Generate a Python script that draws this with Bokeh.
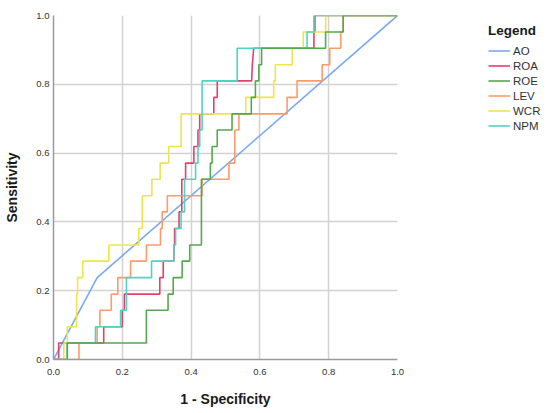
from bokeh.plotting import figure
from bokeh.models import Range1d, Legend, LegendItem, FixedTicker, PrintfTickFormatter
from bokeh.embed import file_html
from bokeh.resources import INLINE

# ---- data ----
series_names = ["AO", "ROA", "ROE", "LEV", "WCR", "NPM"]
series_colors = ["#7aaaee", "#e2416a", "#55a84e", "#ff9a6a", "#ece64a", "#4fd4c4"]

AO_fpr = [0.0, 0.127, 1.0]
AO_tpr = [0.0, 0.238, 1.0]

ROA_fpr = [0.0, 0.015, 0.015, 0.146, 0.146, 0.2, 0.2, 0.206, 0.206, 0.309, 0.309, 0.319, 0.319,
           0.35, 0.35, 0.352, 0.352, 0.365, 0.365, 0.373, 0.373, 0.384, 0.384, 0.408, 0.408,
           0.42, 0.42, 0.425, 0.425, 0.466, 0.466, 0.476, 0.476, 0.576, 0.578, 0.582, 0.757,
           0.757, 0.76, 0.76, 1.0]
ROA_tpr = [0.0, 0.0, 0.048, 0.048, 0.095, 0.095, 0.143, 0.143, 0.19, 0.19, 0.238, 0.238, 0.286,
           0.286, 0.333, 0.333, 0.381, 0.381, 0.429, 0.429, 0.524, 0.524, 0.571, 0.571, 0.619,
           0.619, 0.667, 0.667, 0.714, 0.714, 0.762, 0.762, 0.81, 0.81, 0.857, 0.905, 0.905,
           0.952, 0.952, 1.0, 1.0]

ROE_fpr = [0.0, 0.04, 0.04, 0.27, 0.27, 0.333, 0.333, 0.348, 0.348, 0.374, 0.374, 0.396, 0.396,
           0.43, 0.43, 0.456, 0.456, 0.461, 0.461, 0.476, 0.476, 0.519, 0.519, 0.575, 0.575,
           0.587, 0.587, 0.597, 0.597, 0.605, 0.605, 0.791, 0.791, 0.842, 0.842, 1.0]
ROE_tpr = [0.0, 0.0, 0.048, 0.048, 0.143, 0.143, 0.19, 0.19, 0.238, 0.238, 0.286, 0.286, 0.333,
           0.333, 0.524, 0.524, 0.571, 0.571, 0.619, 0.619, 0.667, 0.667, 0.714, 0.714, 0.762,
           0.762, 0.81, 0.81, 0.857, 0.857, 0.905, 0.905, 0.952, 0.952, 1.0, 1.0]

LEV_fpr = [0.0, 0.074, 0.074, 0.127, 0.127, 0.135, 0.135, 0.168, 0.168, 0.187, 0.187, 0.224,
           0.224, 0.27, 0.27, 0.311, 0.311, 0.316, 0.316, 0.331, 0.331, 0.432, 0.432, 0.51,
           0.51, 0.527, 0.527, 0.539, 0.539, 0.679, 0.679, 0.708, 0.708, 0.781, 0.781, 0.803,
           0.803, 0.835, 0.835, 0.842, 0.842, 1.0]
LEV_tpr = [0.0, 0.0, 0.048, 0.048, 0.095, 0.095, 0.143, 0.143, 0.19, 0.19, 0.238, 0.238, 0.286,
           0.286, 0.333, 0.333, 0.381, 0.381, 0.429, 0.429, 0.476, 0.476, 0.524, 0.524, 0.571,
           0.571, 0.667, 0.667, 0.714, 0.714, 0.762, 0.762, 0.81, 0.81, 0.857, 0.857, 0.905,
           0.905, 0.952, 0.952, 1.0, 1.0]

WCR_fpr = [0.0, 0.03, 0.03, 0.04, 0.04, 0.067, 0.067, 0.07, 0.07, 0.085, 0.085, 0.161, 0.161,
           0.248, 0.248, 0.258, 0.258, 0.286, 0.286, 0.31, 0.31, 0.335, 0.335, 0.371, 0.371,
           0.559, 0.559, 0.64, 0.64, 0.645, 0.645, 0.694, 0.694, 0.726, 0.726, 0.791, 0.791, 1.0]
WCR_tpr = [0.0, 0.0, 0.048, 0.048, 0.095, 0.095, 0.19, 0.19, 0.238, 0.238, 0.286, 0.286, 0.333,
           0.333, 0.381, 0.381, 0.476, 0.476, 0.524, 0.524, 0.571, 0.571, 0.619, 0.619, 0.714,
           0.714, 0.762, 0.762, 0.81, 0.81, 0.857, 0.857, 0.905, 0.905, 0.952, 0.952, 1.0, 1.0]

NPM_fpr = [0.0, 0.04, 0.04, 0.122, 0.122, 0.195, 0.195, 0.212, 0.212, 0.285, 0.285, 0.35, 0.35,
           0.355, 0.355, 0.371, 0.371, 0.381, 0.381, 0.413, 0.413, 0.42, 0.42, 0.425, 0.425,
           0.432, 0.432, 0.534, 0.534, 0.737, 0.737, 0.757, 0.757, 1.0]
NPM_tpr = [0.0, 0.0, 0.048, 0.048, 0.095, 0.095, 0.143, 0.143, 0.238, 0.238, 0.286, 0.286, 0.333,
           0.333, 0.381, 0.381, 0.429, 0.429, 0.524, 0.524, 0.571, 0.571, 0.619, 0.619, 0.667,
           0.667, 0.81, 0.81, 0.905, 0.905, 0.952, 0.952, 1.0, 1.0]

x_ticks = [0.0, 0.2, 0.4, 0.6, 0.8, 1.0]
y_ticks = [0.0, 0.2, 0.4, 0.6, 0.8, 1.0]
x_title = "1 - Specificity"
y_title = "Sensitivity"
legend_title = "Legend"

data = {
    "AO": (AO_fpr, AO_tpr),
    "ROA": (ROA_fpr, ROA_tpr),
    "ROE": (ROE_fpr, ROE_tpr),
    "LEV": (LEV_fpr, LEV_tpr),
    "WCR": (WCR_fpr, WCR_tpr),
    "NPM": (NPM_fpr, NPM_tpr),
}
colors = dict(zip(series_names, series_colors))

FONT = "Liberation Sans"

p = figure(frame_width=344, frame_height=344, output_backend="svg", toolbar_location=None,
           x_range=Range1d(0, 1), y_range=Range1d(0, 1),
           min_border_left=53, min_border_right=150, min_border_top=15, min_border_bottom=52)
p.outline_line_color = None
p.background_fill_color = "white"
p.border_fill_color = "white"

for ax, ticks in ((p.xaxis, x_ticks), (p.yaxis, y_ticks)):
    ax.ticker = FixedTicker(ticks=ticks)
    ax.major_tick_line_color = None
    ax.minor_tick_line_color = None
    ax.major_tick_out = 0
    ax.major_tick_in = 0
    ax.axis_line_color = "#9a9a9a"
    ax.axis_line_width = 1.5
    ax.major_label_text_font = FONT
    ax.major_label_text_font_size = "9.5px"
    ax.major_label_text_color = "#333333"
    ax.axis_label_text_font = FONT
    ax.axis_label_text_font_size = "14px"
    ax.axis_label_text_font_style = "bold"
    ax.axis_label_text_color = "#1a1a1a"
    ax.formatter = PrintfTickFormatter(format="%.1f")

p.xaxis.axis_label = x_title
p.yaxis.axis_label = y_title
p.xaxis.major_label_standoff = 9
p.yaxis.major_label_standoff = 4
p.xaxis.axis_label_standoff = 13
p.yaxis.axis_label_standoff = 13

for g in (p.xgrid, p.ygrid):
    g.grid_line_color = "#d2d2d2"
    g.grid_line_width = 1.5
p.xgrid.ticker = FixedTicker(ticks=x_ticks)
p.ygrid.ticker = FixedTicker(ticks=y_ticks)

renderers = {}
draw_order = ["AO", "ROA", "LEV", "WCR", "NPM", "ROE"]
for name in draw_order:
    xs, ys = data[name]
    renderers[name] = p.line(xs, ys, line_color=colors[name], line_width=1.6)

items = [LegendItem(label=n, renderers=[renderers[n]]) for n in series_names]
legend = Legend(items=items, location=(91, 226), title=legend_title)
legend.title_text_font = FONT
legend.title_text_font_size = "13.5px"
legend.title_text_font_style = "bold"
legend.title_text_color = "#1a1a1a"
legend.title_standoff = 5
legend.label_text_font = FONT
legend.label_text_font_size = "11.5px"
legend.label_text_color = "#333333"
legend.label_height = 15
legend.glyph_height = 15
legend.glyph_width = 22
legend.label_standoff = 3
legend.spacing = 0
legend.padding = 0
legend.margin = 0
legend.border_line_color = None
legend.background_fill_alpha = 0
p.add_layout(legend, "right")

open("out.html", "w").write(file_html(p, INLINE))
